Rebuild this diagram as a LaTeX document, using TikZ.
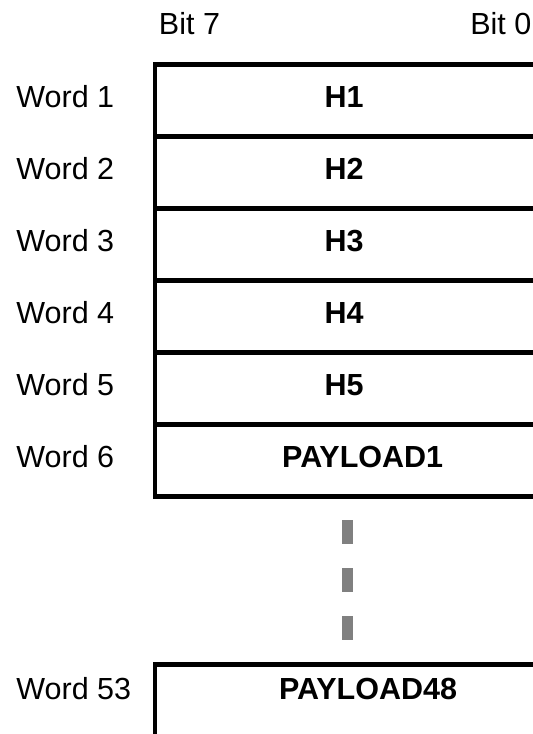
\documentclass[tikz,border=0pt]{standalone}
\usepackage{fontspec}
\setmainfont{Liberation Sans}
\begin{document}
\begin{tikzpicture}[x=1pt, y=1pt, font=\fontsize{30.5}{36}\selectfont, line width=4.8pt, every node/.style={inner sep=0pt, anchor=base}]
			\useasboundingbox (0,0) rectangle (533,-734);
			\node (bit7) at (189.5,-34.3) {Bit 7};
			\node (bit0) at (500.8,-34.3) {Bit 0};
			\draw (545,-64.5) -- (155,-64.5) -- (155,-496.5) -- (545,-496.5);
			\foreach \i in {1,...,5} {
				\draw (155,{-64.5-72*\i}) -- (545,{-64.5-72*\i});
				\node[anchor=base west] (word\i) at (14,{-107.3-72*(\i-1)}) {Word \i};
				\node (h\i) at (344,{-107.3-72*(\i-1)}) {\bfseries H\i};
			}
			\node[anchor=base west] (word6) at (14,-467.5) {Word 6};
			\node (payload1) at (362.7,-467.5) {\bfseries PAYLOAD1};
			\draw[gray, line width=11pt, dash pattern=on 24pt off 24pt] (347.2,-520) -- (347.2,-641);
			\draw (545,-664.8) -- (155,-664.8) -- (155,-745);
			\node[anchor=base west] (word53) at (14,-699.3) {Word 53};
			\node (payload48) at (368,-699.3) {\bfseries PAYLOAD48};
		\end{tikzpicture}
\end{document}
